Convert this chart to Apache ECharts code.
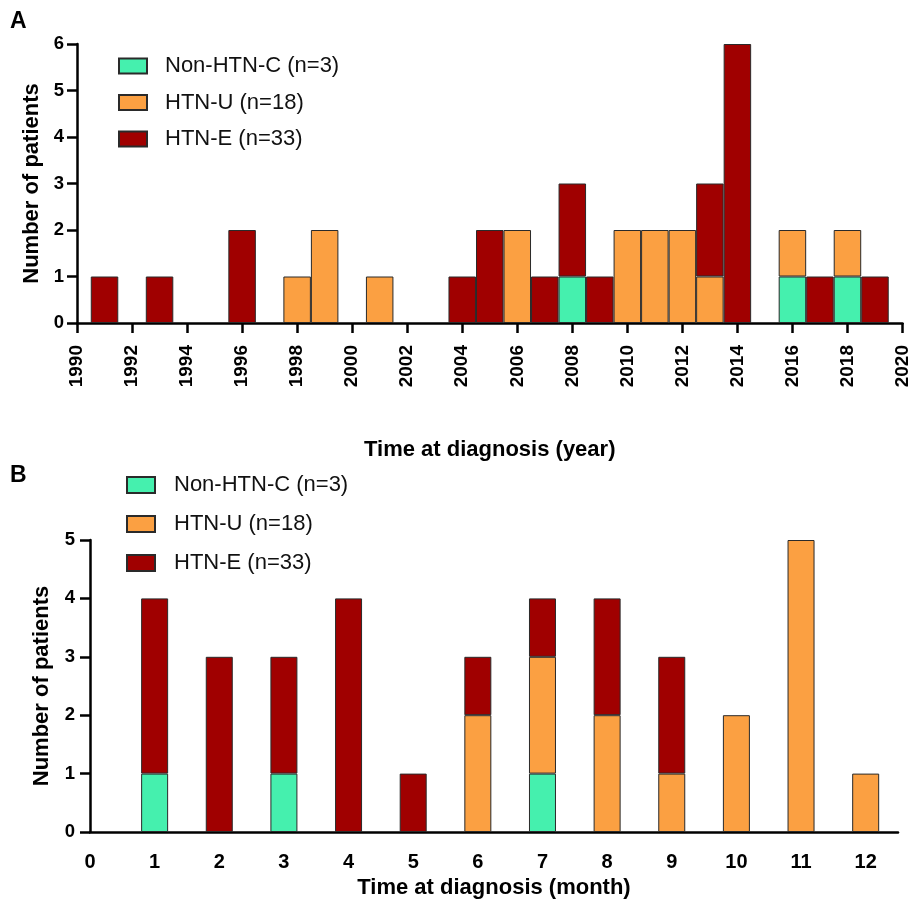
<!DOCTYPE html>
<html lang="en">
<head>
  <meta charset="UTF-8">
  <title>Time at diagnosis</title>
  <script src="https://cdn.jsdelivr.net/npm/echarts@6.0.0/dist/echarts.min.js"></script>
  <style>
    html, body { margin: 0; padding: 0; background: #fff; }
    #main { width: 912px; height: 902px; }
  </style>
</head>
<body>
  <div id="main"></div>

  <script>
    // panel A: by year
    const yearsA = [1991, 1993, 1996, 1998, 1999, 2001, 2004, 2005, 2006, 2007, 2008,
                    2009, 2010, 2011, 2012, 2013, 2014, 2016, 2017, 2018, 2019];
    const nonHtnA = [0, 0, 0, 0, 0, 0, 0, 0, 0, 0, 1, 0, 0, 0, 0, 0, 0, 1, 0, 1, 0];
    const htnUA   = [0, 0, 0, 1, 2, 1, 0, 0, 2, 0, 0, 0, 2, 2, 2, 1, 0, 1, 0, 1, 0];
    const htnEA   = [1, 1, 2, 0, 0, 0, 1, 2, 0, 1, 2, 1, 0, 0, 0, 2, 6, 0, 1, 0, 1];
    const yearAxisStart = 1990, yearAxisEnd = 2020;

    // panel B: by month
    const months  = [1, 2, 3, 4, 5, 6, 7, 8, 9, 10, 11, 12];
    const nonHtnB = [1, 0, 1, 0, 0, 0, 1, 0, 0, 0, 0, 0];
    const htnUB   = [0, 0, 0, 0, 0, 2, 2, 2, 1, 2, 5, 1];
    const htnEB   = [3, 3, 2, 4, 1, 1, 1, 2, 2, 0, 0, 0];
    const monthAxisEnd = 12.5;

    const names = ['Non-HTN-C (n=3)', 'HTN-U (n=18)', 'HTN-E (n=33)'];
    const colors = ['#45f0ae', '#fba042', '#a00000'];

    const FONT = '"Liberation Sans", Arial, sans-serif';

    // category slots: one per year for A, half-month steps for B (axis runs to 12.5)
    let yearCats = [];
    for (let y = yearAxisStart; y <= yearAxisEnd; y++) yearCats.push(String(y));
    let monthCats = [];
    for (let m = 0; m <= monthAxisEnd; m += 0.5) monthCats.push(String(m));

    function spread(cats, xs, vs) {
      return cats.map(c => {
        let i = xs.indexOf(Number(c));
        return (i >= 0 && vs[i]) ? vs[i] : '-';
      });
    }

    function barSeries(idx, data, axisIdx, stack, width) {
      return {
        name: names[idx],
        type: 'bar',
        stack: stack,
        xAxisIndex: axisIdx,
        yAxisIndex: axisIdx,
        barWidth: width,
        data: data,
        itemStyle: { color: colors[idx], borderColor: '#2a2a2a', borderWidth: 1 },
        emphasis: { disabled: true }
      };
    }

    const axisLine = { show: true, lineStyle: { color: '#000', width: 2.5 } };
    const tickStyle = { lineStyle: { color: '#000', width: 2.5 } };
    const boldLabel = (size, margin) => ({
      color: '#000', fontFamily: FONT, fontWeight: 'bold', fontSize: size, margin: margin
    });
    const nameStyle = { color: '#000', fontFamily: FONT, fontWeight: 'bold', fontSize: 22 };

    let myChart = echarts.init(document.getElementById('main'));

    let option = {
      animation: false,
      graphic: [
        { type: 'text', left: 10, top: 10, style: { text: 'A', font: 'bold 23px ' + FONT, fill: '#000' } },
        { type: 'text', left: 10, top: 464, style: { text: 'B', font: 'bold 23px ' + FONT, fill: '#000' } }
      ],
      legend: [
        {
          orient: 'vertical', left: 118, top: 55, padding: 0,
          itemWidth: 28, itemHeight: 15, itemGap: 14.5, icon: 'rect',
          selectedMode: false, data: names,
          textStyle: { fontFamily: FONT, fontSize: 22, color: '#111', padding: [0, 0, 0, 13] }
        },
        {
          orient: 'vertical', left: 126, top: 474, padding: 0,
          itemWidth: 28, itemHeight: 16, itemGap: 17, icon: 'rect',
          selectedMode: false, data: names,
          textStyle: { fontFamily: FONT, fontSize: 22, color: '#111', padding: [0, 0, 0, 14] }
        }
      ],
      grid: [
        { left: 77, right: 9, top: 44, bottom: 579 },
        { left: 90, right: 14, top: 540, bottom: 70 }
      ],
      xAxis: [
        {
          gridIndex: 0, type: 'category', data: yearCats, boundaryGap: false,
          axisLine: axisLine,
          axisTick: Object.assign({ show: true, length: 10, interval: 1 }, tickStyle),
          axisLabel: Object.assign(boldLabel(19, 22), { rotate: 90, interval: 1 }),
          splitLine: { show: false },
          name: 'Time at diagnosis (year)', nameLocation: 'middle', nameGap: 116,
          nameTextStyle: nameStyle
        },
        {
          gridIndex: 1, type: 'category', data: monthCats, boundaryGap: false,
          axisLine: axisLine,
          axisTick: { show: false },
          axisLabel: Object.assign(boldLabel(20, 20), { interval: 1 }),
          splitLine: { show: false },
          name: 'Time at diagnosis (month)', nameLocation: 'middle', nameGap: 45,
          nameTextStyle: nameStyle
        }
      ],
      yAxis: [
        {
          gridIndex: 0, type: 'value', min: 0, max: 6, interval: 1,
          axisLine: axisLine,
          axisTick: Object.assign({ show: true, length: 10 }, tickStyle),
          axisLabel: boldLabel(18.5, 13),
          splitLine: { show: false },
          name: 'Number of patients', nameLocation: 'middle', nameGap: 34,
          nameTextStyle: nameStyle
        },
        {
          gridIndex: 1, type: 'value', min: 0, max: 5, interval: 1,
          axisLine: axisLine,
          axisTick: Object.assign({ show: true, length: 10 }, tickStyle),
          axisLabel: boldLabel(18.5, 15),
          splitLine: { show: false },
          name: 'Number of patients', nameLocation: 'middle', nameGap: 37,
          nameTextStyle: nameStyle
        }
      ],
      series: [
        barSeries(0, spread(yearCats, yearsA, nonHtnA), 0, 'a', 27.5),
        barSeries(1, spread(yearCats, yearsA, htnUA), 0, 'a', 27.5),
        barSeries(2, spread(yearCats, yearsA, htnEA), 0, 'a', 27.5),
        barSeries(0, spread(monthCats, months, nonHtnB), 1, 'b', 27),
        barSeries(1, spread(monthCats, months, htnUB), 1, 'b', 27),
        barSeries(2, spread(monthCats, months, htnEB), 1, 'b', 27)
      ]
    };
    myChart.setOption(option);

    window.addEventListener('resize', function () {
      myChart.resize();
    });
  </script>
</body>
</html>
